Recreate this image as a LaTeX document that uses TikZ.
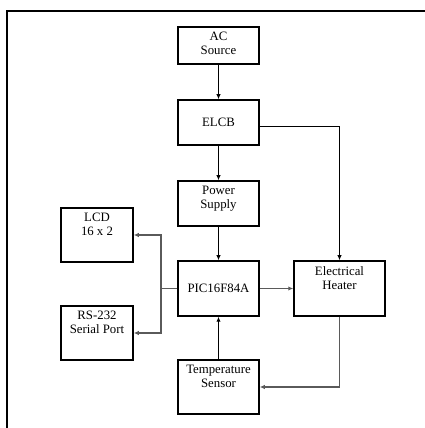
\documentclass[tikz,border=0pt]{standalone}
\usepackage{fontspec}
\setmainfont{Liberation Serif}
\usetikzlibrary{arrows.meta,positioning}
\definecolor{wire}{HTML}{5A5A5A}

\begin{document}
\begin{tikzpicture}[x=1pt,y=1pt,
    blk/.style={draw,line width=1.5pt,minimum width=81pt,minimum height=45pt,
      inner sep=0pt,font=\fontsize{12.8}{14}\selectfont},
    lbl/.style={align=center,inner sep=0pt,font=\fontsize{12.8}{14}\selectfont},
    feed/.style={line width=1.2pt,-{Latex[length=5pt,width=4.5pt]}},
    sig/.style={wire,line width=1.1pt,-{Latex[length=5pt,width=4.5pt]}}]
  \useasboundingbox (0,0) rectangle (425,428);

  \draw[line width=1.3pt] (7,0) -- (7,417) -- (425,417);

  \node[blk,minimum height=37pt] (ac) at (218.5,382.5) {};
  \node[lbl,below=6pt of ac.north] (acT) {AC\\Source};

  \node[blk] (elcb) at (218.5,305.5) {ELCB};

  \node[blk] (ps) at (218.5,224.5) {};
  \node[lbl,below=6pt of ps.north] (psT) {Power\\Supply};

  \node[blk,minimum height=55pt] (pic) at (218.5,139.5) {PIC16F84A};

  \node[blk,minimum height=54pt] (ts) at (218.5,41) {};
  \node[lbl,below=6pt of ts.north] (tsT) {Temperature\\Sensor};

  \node[blk,minimum width=72pt,minimum height=54pt] (lcd) at (97,193) {};
  \node[lbl,below=6pt of lcd.north] (lcdT) {LCD\\16 x 2};

  \node[blk,minimum width=72pt,minimum height=54pt] (rs) at (97,95) {};
  \node[lbl,below=6pt of rs.north] (rsT) {RS-232\\Serial Port};

  \node[blk,minimum width=91pt,minimum height=55pt] (eh) at (339.5,139.5) {};
  \node[lbl,below=6pt of eh.north] (ehT) {Electrical\\Heater};

  \coordinate (split) at (161,139.5);

  \draw[feed] (ac) -- (elcb);
  \draw[feed] (elcb) -- (ps);
  \draw[feed] (ps) -- (pic);
  \draw[feed] (ts) -- (pic);
  \draw[line width=1pt,-{Latex[length=5pt,width=4.5pt]}]
    ([yshift=-4.5pt]elcb.east) -| (eh.north);
  \draw[sig] (pic) -- (eh);
  \draw[sig] (eh.south) |- (ts.east);
  \draw[wire,line width=1.1pt] (pic.west) -- (split);
  \draw[sig] (split) |- (lcd.east);
  \draw[sig] (split) |- (rs.east);
\end{tikzpicture}
\end{document}
